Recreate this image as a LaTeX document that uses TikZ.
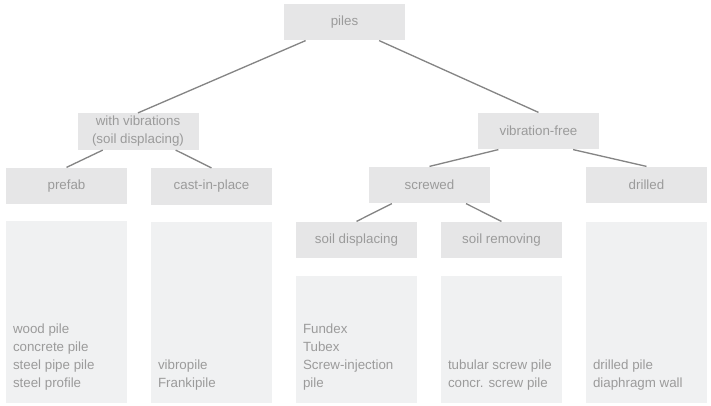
\documentclass[tikz,border=0pt]{standalone}
\usepackage{fontspec}
\setmainfont{Liberation Sans}
\usetikzlibrary{calc}
\definecolor{hdfill}{HTML}{E6E6E7}
\definecolor{lsfill}{HTML}{F0F1F2}
\definecolor{txt}{HTML}{9B9B9B}
\definecolor{edgegray}{HTML}{858585}

\begin{document}
\begin{tikzpicture}[
  x=0.75pt, y=-0.75pt,
  cat/.style={fill=hdfill, minimum width=90.75pt, minimum height=27.5pt, inner sep=0pt,
    text=txt, font=\fontsize{10}{13.5}\selectfont},
  list/.style={fill=lsfill, minimum width=90.75pt, inner sep=0pt},
  items/.style={anchor=south west, align=left, inner sep=0pt, text=txt,
    font=\fontsize{10}{13.5}\selectfont},
  link/.style={edgegray, line width=1pt},
]
\useasboundingbox (0,0) rectangle (711,406);

% ---- category boxes, by level ----
\node[cat] (piles) at (344.5,22) {piles};
\node[cat, align=center] (vib) at (138,131.5) {with vibrations\\(soil displacing)};
\node[cat] (free) at (538.5,131) {vibration-free};
\node[cat] (prefab) at (66.5,186) {prefab};
\node[cat] (cast) at (211.5,186.5) {cast-in-place};
\node[cat] (screwed) at (429.5,185) {screwed};
\node[cat] (drilled) at (646.5,185) {drilled};
\node[cat] (sdisp) at (356.5,240) {soil displacing};
\node[cat] (srem) at (501.5,240) {soil removing};

% ---- list boxes under the leaves ----
\node[list, minimum height=136.5pt] (prefabL) at (66.5,312) {};
\node[list, minimum height=135.75pt] (castL) at (211.5,312.5) {};
\node[list, minimum height=95.25pt] (sdispL) at (356.5,339.5) {};
\node[list, minimum height=95.25pt] (sremL) at (501.5,339.5) {};
\node[list, minimum height=135.75pt] (drilledL) at (646.5,312.5) {};

% ---- pile types, set at the bottom left of each list ----
\foreach \b/\t in {prefabL/{wood pile\\concrete pile\\steel pipe pile\\steel profile},
                   castL/{vibropile\\Frankipile},
                   sdispL/{Fundex\\Tubex\\Screw-injection\\pile},
                   sremL/{tubular screw pile\\concr. screw pile},
                   drilledL/{drilled pile\\diaphragm wall}} {
  \node[items] (\b T) at ($(\b.south west)+(7,-13)$) {\t};
}

% ---- tree links: parent bottom (fraction along it) to child top ----
\foreach \p/\c/\f in {piles/vib/0.18, piles/free/0.785, vib/prefab/0.21, vib/cast/0.81,
                      free/screwed/0.17, free/drilled/0.785, screwed/sdisp/0.19, screwed/srem/0.8} {
  \draw[link] ($(\p.south west)!\f!(\p.south east)$) -- (\c.north);
}

\end{tikzpicture}
\end{document}
